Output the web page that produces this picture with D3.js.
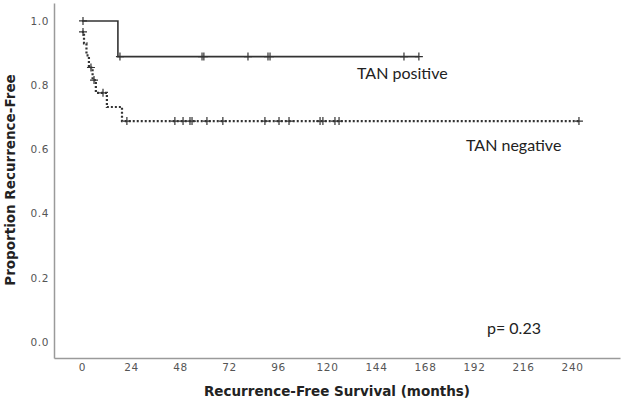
<!DOCTYPE html>
<html lang="en">
<head>
<meta charset="UTF-8">
<title>Recurrence-free survival by TAN</title>
<style>
    body { margin: 0; background: #fff; }
    svg { display: block; }
    .axis path { stroke: #9a9a9a; stroke-width: 1.5; }
    .axis text { font-family: "DejaVu Sans", sans-serif; font-size: 10.5px; letter-spacing: 0.6px; fill: #555; }
    .title { font-family: "DejaVu Sans", sans-serif; font-weight: bold; font-size: 13.5px; fill: #222; }
    .label { font-family: Lato, "Open Sans", sans-serif; font-size: 16px; fill: #222; }
</style>
</head>
<body>
<svg width="623" height="401"></svg>
<script src="https://d3js.org/d3.v7.min.js"></script>
<script>
    // TAN positive: step times and survival after each step
    const posTime = [0, 17.6];
    const posSurv = [1.0, 0.889];
    const posEnd = 165;
    const posCensor = [0.5, 18.6, 58.8, 59.7, 81.3, 91.1, 92.1, 157.7, 165];

    // TAN negative
    const negTime = [0, 1, 2.2, 3.4, 5.2, 6.8, 12.2, 19.6];
    const negSurv = [0.966, 0.93, 0.893, 0.855, 0.816, 0.776, 0.732, 0.688];
    const negEnd = 243.4;
    const negCensor = [0.5, 4.4, 5.9, 10.3, 22.0, 45.5, 49.5, 52.9, 53.9, 61.2, 69.0,
        89.6, 96.5, 101.4, 116.6, 118.0, 123.9, 125.9, 243.4];

    const xTicks = [0, 24, 48, 72, 96, 120, 144, 168, 192, 216, 240];
    const yTicks = [0, 0.2, 0.4, 0.6, 0.8, 1.0];

    const svg = d3.select("svg");

    const x = d3.scaleLinear().domain([-13.7, 263.5]).range([54, 620]);
    const y = d3.scaleLinear().domain([-0.05, 1.056]).range([358, 3]);

    svg.append("g")
        .attr("class", "axis")
        .attr("transform", "translate(0,358)")
        .call(d3.axisBottom(x).tickValues(xTicks).tickSize(0).tickPadding(6).tickSizeOuter(0));

    svg.append("g")
        .attr("class", "axis")
        .attr("transform", "translate(54,0)")
        .call(d3.axisLeft(y).tickValues(yTicks).tickFormat(d3.format(".1f")).tickSize(0).tickPadding(5).tickSizeOuter(0));

    // step function value at time t
    function survAt(times, surv, t) {
        let s = surv[0];
        times.forEach((tt, i) => { if (tt <= t) s = surv[i]; });
        return s;
    }

    function curve(times, surv, end) {
        const pts = times.map((t, i) => [t, surv[i]]);
        pts.push([end, surv[surv.length - 1]]);
        return pts;
    }

    const line = d3.line()
        .x(d => x(d[0]))
        .y(d => y(d[1]))
        .curve(d3.curveStepAfter);

    function plus(cx, cy) {
        return `M${cx - 4},${cy}H${cx + 4}M${cx},${cy - 4}V${cy + 4}`;
    }

    const groups = [
        { time: posTime, surv: posSurv, end: posEnd, censor: posCensor, dash: null, width: 1.6 },
        { time: negTime, surv: negSurv, end: negEnd, censor: negCensor, dash: "2,2", width: 2.2 }
    ];

    groups.forEach(g => {
        svg.append("path")
            .datum(curve(g.time, g.surv, g.end))
            .attr("d", line)
            .attr("fill", "none")
            .attr("stroke", "#333")
            .attr("stroke-width", g.width)
            .attr("stroke-dasharray", g.dash);

        svg.append("path")
            .attr("d", g.censor.map(t => plus(x(t), y(survAt(g.time, g.surv, t)))).join(""))
            .attr("fill", "none")
            .attr("stroke", "#333")
            .attr("stroke-width", 1.2);
    });

    // labels
    svg.append("text").attr("class", "label").attr("x", 357).attr("y", 79).text("TAN positive");
    svg.append("text").attr("class", "label").attr("x", 466).attr("y", 151).text("TAN negative");
    svg.append("text").attr("class", "label").attr("x", 487).attr("y", 334).text("p= 0.23");

    svg.append("text")
        .attr("class", "title")
        .attr("text-anchor", "middle")
        .attr("x", 337).attr("y", 396)
        .text("Recurrence-Free Survival (months)");

    svg.append("text")
        .attr("class", "title")
        .attr("text-anchor", "middle")
        .attr("transform", "translate(15,180) rotate(-90)")
        .text("Proportion Recurrence-Free");
</script>
</body>
</html>
